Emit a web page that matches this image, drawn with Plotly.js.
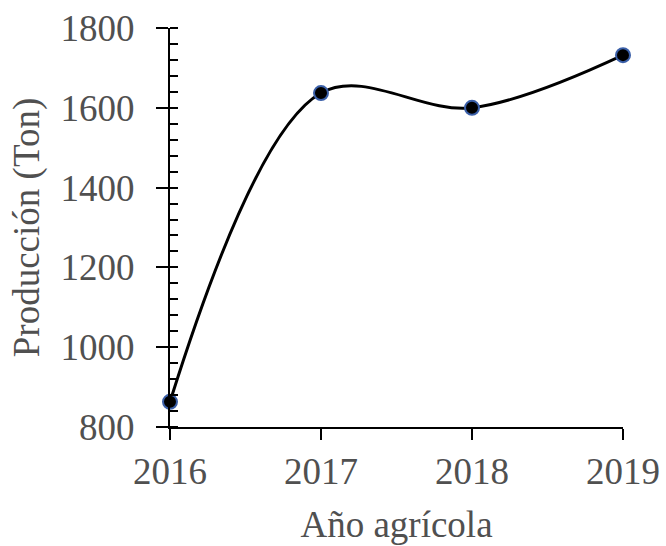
<!DOCTYPE html>
<html>
<head>
<meta charset="utf-8">
<script src="https://cdn.plot.ly/plotly-3.0.1.min.js"></script>
<style>html,body{margin:0;padding:0;background:#fff;}#chart{width:666px;height:546px;}</style>
</head>
<body>
<div id="chart"></div>
<script>
const years = ["2016", "2017", "2018", "2019"];
const production = [863, 1637, 1600, 1732];
const yTickVals = [800, 1000, 1200, 1400, 1600, 1800];

const textColor = "#505050";
const fontFam = "Liberation Serif, Times New Roman, serif";

const trace = {
  x: years,
  y: production,
  type: "scatter",
  mode: "lines+markers",
  line: {shape: "spline", smoothing: 1, color: "#000", width: 3},
  marker: {size: 14, color: "#000", line: {color: "#3a5fa8", width: 2}},
  cliponaxis: false,
  hoverinfo: "x+y"
};
const helper = {
  x: years, y: production, type: "scatter", mode: "none", yaxis: "y2", hoverinfo: "skip", showlegend: false
};

const layout = {
  width: 666, height: 546,
  margin: {l: 170, r: 43, t: 28, b: 119},
  paper_bgcolor: "#fff", plot_bgcolor: "#fff",
  showlegend: false,
  font: {family: fontFam, color: textColor, size: 37},
  xaxis: {
    type: "category",
    range: [0, 3],
    showgrid: false, zeroline: false,
    showline: true, linecolor: "#000", linewidth: 2,
    ticks: "outside", ticklen: 11, tickwidth: 2, tickcolor: "#000",
    tickfont: {family: fontFam, size: 37, color: textColor},
    title: {text: "Año agrícola", font: {family: fontFam, size: 37, color: textColor}, standoff: 20}
  },
  yaxis: {
    range: [800, 1800],
    tickvals: yTickVals,
    showgrid: false, zeroline: false,
    showline: true, linecolor: "#000", linewidth: 2,
    ticks: "outside", ticklen: 12, tickwidth: 2, tickcolor: "#000",
    ticklabelstandoff: 14,
    minor: {dtick: 40, ticks: "inside", ticklen: 8, tickwidth: 2, tickcolor: "#000", showgrid: false},
    tickfont: {family: fontFam, size: 37, color: textColor},
    title: {text: "Producción (Ton)", font: {family: fontFam, size: 37, color: textColor}, standoff: 10}
  },
  yaxis2: {
    overlaying: "y", anchor: "x", side: "left",
    range: [800, 1800],
    tickvals: yTickVals,
    showticklabels: false, showgrid: false, zeroline: false, showline: false,
    ticks: "inside", ticklen: 8, tickwidth: 2, tickcolor: "#000"
  }
};

Plotly.newPlot("chart", [helper, trace], layout, {displayModeBar: false, staticPlot: true});
</script>
</body>
</html>
